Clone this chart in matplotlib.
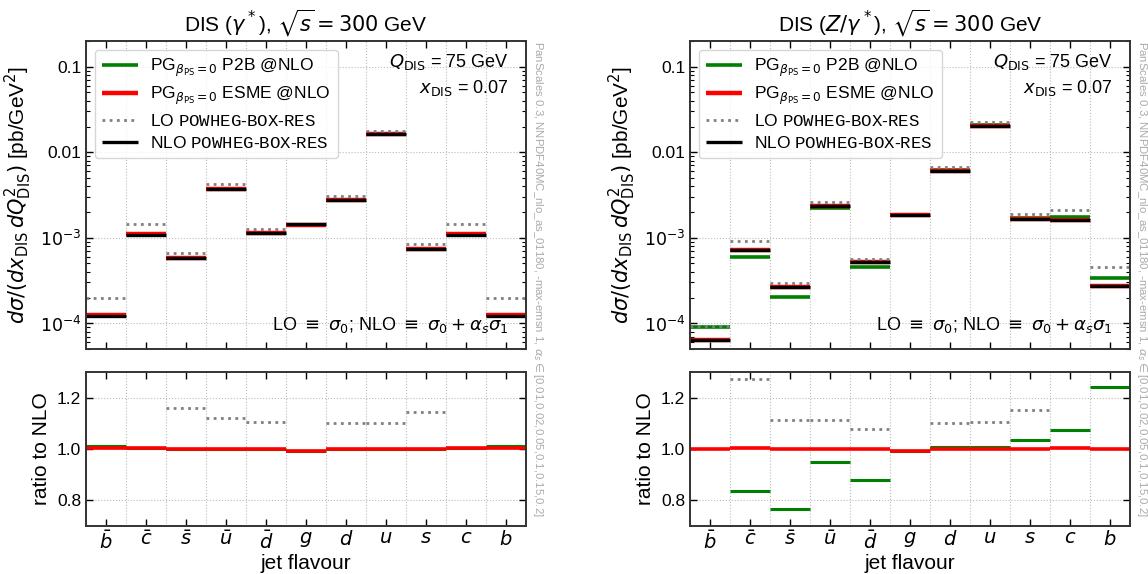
import matplotlib
matplotlib.use("Agg")
import matplotlib.pyplot as plt
import numpy as np

plt.rcParams["font.family"] = ["Liberation Sans", "DejaVu Sans"]
plt.rcParams["mathtext.fontset"] = "custom"
plt.rcParams["mathtext.rm"] = "DejaVu Sans"
plt.rcParams["mathtext.it"] = "DejaVu Sans:italic"
plt.rcParams["mathtext.bf"] = "DejaVu Sans:bold"
plt.rcParams["mathtext.sf"] = "DejaVu Sans"
plt.rcParams["mathtext.tt"] = "Liberation Mono"
plt.rcParams["mathtext.fallback"] = "stixsans"

flavours = [r"$\bar{b}$", r"$\bar{c}$", r"$\bar{s}$", r"$\bar{u}$", r"$\bar{d}$",
            r"$g$", r"$d$", r"$u$", r"$s$", r"$c$", r"$b$"]

# photon exchange only
nlo_gam = [1.23e-4, 1.09e-3, 5.75e-4, 3.76e-3, 1.15e-3, 1.43e-3, 2.78e-3, 1.62e-2, 7.4e-4, 1.09e-3, 1.23e-4]
lo_gam = [2.0e-4, 1.43e-3, 6.67e-4, 4.21e-3, 1.27e-3, np.nan, 3.06e-3, 1.785e-2, 8.47e-4, 1.43e-3, 2.0e-4]
p2b_gam = [1.012, 1.005, 1.0, 1.0, 1.0, 0.993, 1.0, 1.0, 1.0, 1.004, 1.01]
esme_gam = [1.005, 1.004, 1.0, 1.0, 1.0, 0.993, 1.0, 1.0, 1.0, 1.004, 1.004]

# Z/photon exchange
nlo_z = [6.4e-5, 7.1e-4, 2.63e-4, 2.34e-3, 5.2e-4, 1.84e-3, 6.1e-3, 2.05e-2, 1.65e-3, 1.62e-3, 2.7e-4]
lo_z = [9.2e-5, 9.05e-4, 2.93e-4, 2.6e-3, 5.6e-4, np.nan, 6.71e-3, 2.265e-2, 1.9e-3, 2.14e-3, 4.6e-4]
p2b_z = [1.43, 0.838, 0.768, 0.95, 0.88, 0.993, 1.009, 1.006, 1.037, 1.075, 1.24]
esme_z = [1.0, 1.003, 1.0, 1.0, 1.0, 0.993, 1.0, 1.0, 1.0, 1.002, 1.0]

side_note = (r"PanScales 0.3, NNPDF40MC_nlo_as_01180, -max-emsn 1, $\alpha_s \in$"
             r"[0.01,0.02,0.05,0.1,0.15,0.2]")

labels = [r"PG$_{\beta_{\rm PS}=0}$ P2B @NLO",
          r"PG$_{\beta_{\rm PS}=0}$ ESME @NLO",
          r"LO $\mathtt{POWHEG}$-$\mathtt{BOX}$-$\mathtt{RES}$",
          r"NLO $\mathtt{POWHEG}$-$\mathtt{BOX}$-$\mathtt{RES}$"]

W, H = 1148, 574
fig = plt.figure(figsize=(W / 100, H / 100), dpi=100)


def px_axes(x0, y0, x1, y1):
    return fig.add_axes([x0 / W, 1 - y1 / H, (x1 - x0) / W, (y1 - y0) / H])


def style(ax):
    ax.tick_params(which="both", direction="in", top=True, right=True, labelsize=12.5)
    ax.tick_params(which="major", length=5, width=1)
    ax.tick_params(which="minor", length=3, width=0.8)
    for s in ax.spines.values():
        s.set_color("#333333")
        s.set_linewidth(1.4)
    ax.set_xlim(-0.5, len(flavours) - 0.5)
    ax.set_xticks(np.arange(len(flavours)))
    ax.set_xticks(np.arange(len(flavours) + 1) - 0.5, minor=True)
    ax.tick_params(axis="x", which="minor", length=0)
    ax.grid(axis="x", which="minor", ls=":", color="#bbbbbb", lw=0.8)
    ax.grid(axis="y", which="major", ls=":", color="#bbbbbb", lw=0.8)
    ax.set_axisbelow(True)


def panel(x0, x1, title, nlo, lo, p2b, esme):
    x = np.arange(len(flavours))
    nlo = np.array(nlo)
    lo = np.array(lo)
    p2b = np.array(p2b)
    esme = np.array(esme)

    ax = px_axes(x0, 41, x1, 349)
    rx = px_axes(x0, 372, x1, 526)
    style(ax)
    style(rx)

    ax.hlines(nlo * p2b, x - 0.5, x + 0.5, color="green", lw=2.6, label=labels[0])
    ax.hlines(nlo * esme, x - 0.5, x + 0.5, color="red", lw=3.2, label=labels[1])
    ax.hlines(lo, x - 0.5, x + 0.5, color="grey", lw=2, ls=(0, (1, 1.6)), label=labels[2])
    ax.hlines(nlo, x - 0.5, x + 0.5, color="black", lw=2.4, label=labels[3])
    ax.set_yscale("log")
    ax.set_ylim(5e-5, 0.2)
    ax.set_yticks([1e-4, 1e-3, 1e-2, 1e-1])
    ax.set_yticklabels([r"$10^{-4}$", r"$10^{-3}$", "0.01", "0.1"])
    ax.tick_params(axis="x", labelbottom=False)
    ax.set_ylabel(r"$d\sigma/(dx_{\rm DIS}\,dQ^2_{\rm DIS})$ [pb/GeV$^2$]", fontsize=15)
    ax.set_title(title, fontsize=15, pad=7)
    ax.legend(loc="upper left", fontsize=12.5, handlelength=2.1, handletextpad=0.7,
              framealpha=0.8, edgecolor="#cccccc", borderpad=0.4, labelspacing=0.35)
    ax.text(0.96, 0.965, r"$Q_{\rm DIS}$ = 75 GeV", transform=ax.transAxes,
            ha="right", va="top", fontsize=13)
    ax.text(0.96, 0.88, r"$x_{\rm DIS}$ = 0.07", transform=ax.transAxes,
            ha="right", va="top", fontsize=13)
    ax.text(0.96, 0.045, r"LO $\equiv$ $\sigma_0$; NLO $\equiv$ $\sigma_0 + \alpha_s\sigma_1$",
            transform=ax.transAxes, ha="right", va="bottom", fontsize=13)
    ax.text(1.012, 1.0, side_note, transform=ax.transAxes, rotation=270,
            ha="left", va="top", fontsize=8.2, color="#aaaaaa")

    rx.hlines(p2b, x - 0.5, x + 0.5, color="green", lw=2.2)
    rx.hlines(esme, x - 0.5, x + 0.5, color="red", lw=2.6)
    rx.hlines(lo / nlo, x - 0.5, x + 0.5, color="grey", lw=2, ls=(0, (1, 1.6)))
    rx.set_ylim(0.7, 1.3)
    rx.set_yticks([0.8, 1.0, 1.2])
    rx.set_xticklabels(flavours, fontsize=14)
    rx.tick_params(axis="x", pad=3)
    rx.set_ylabel("ratio to NLO", fontsize=15)
    rx.set_xlabel("jet flavour", fontsize=15, labelpad=1)
    return ax, rx


panel(86, 526, r"DIS ($\gamma^*$), $\sqrt{s} = 300$ GeV", nlo_gam, lo_gam, p2b_gam, esme_gam)
panel(690, 1130, r"DIS ($Z/\gamma^*$), $\sqrt{s} = 300$ GeV", nlo_z, lo_z, p2b_z, esme_z)

fig.savefig("out.png", dpi=100)
